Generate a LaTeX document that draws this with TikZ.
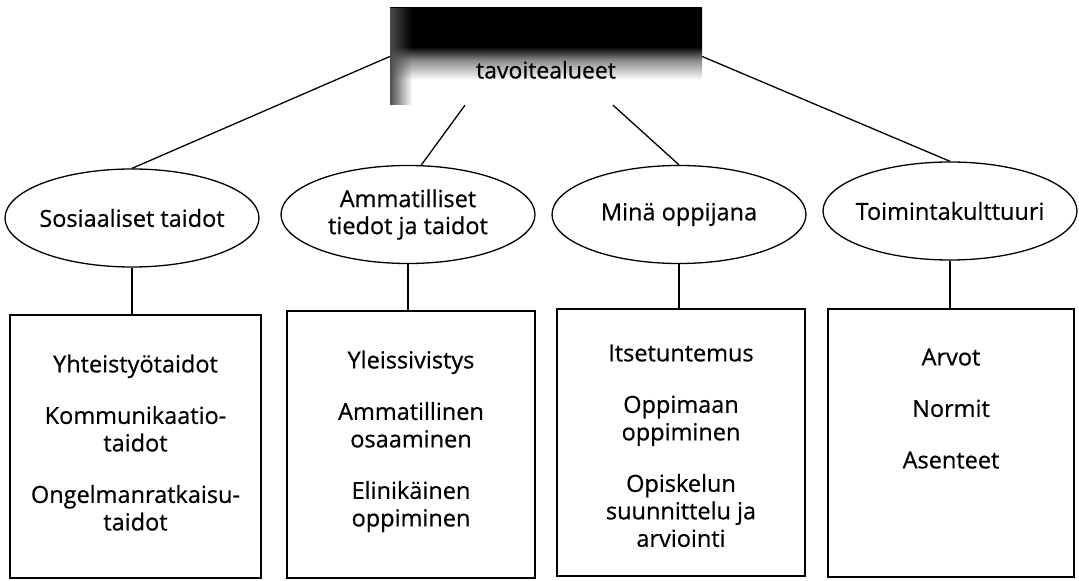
\documentclass[tikz,border=0pt]{standalone}
\usepackage{fontspec}
\setmainfont{Open Sans}[FakeBold=0.6]
\usepackage{tikz}
\usetikzlibrary{calc}
\usetikzlibrary{shapes.geometric}
\usetikzlibrary{fadings}
\pgfdeclareverticalshading{titlefade}{100bp}{color(0bp)=(white); color(38bp)=(white); color(48bp)=(black!45); color(55bp)=(black); color(100bp)=(black)}
\tikzset{
  title/.style={shade,shading=titlefade,minimum width=312,minimum height=97,inner sep=0pt,align=center,font=\fontsize{23}{26}\selectfont},
  goal/.style={ellipse,draw,line width=1.3pt,minimum width=254,minimum height=98,inner xsep=-40pt,inner ysep=0pt,align=center,font=\fontsize{23.5}{27}\selectfont},
  panel/.style={draw,line width=1.3pt,minimum width=248,minimum height=267,inner sep=0pt},
  items/.style={anchor=north,align=center,inner sep=0pt,font=\fontsize{23.5}{27.5}\selectfont},
  link/.style={line width=1.3pt}
}

\begin{document}
\begin{tikzpicture}[x=1pt,y=1pt]
\useasboundingbox (0,0) rectangle (1079,581);
% top
\node[title] (top) at (546,524.5) {\strut\\tavoitealueet};
\fill[black!70,path fading=east] (top.south west) rectangle ($(top.north west)+(22,0)$);
% goal areas
\node[goal] (soc) at (132,363) {Sosiaaliset taidot};
\node[goal] (pro) at (408,366.5) {Ammatilliset\\tiedot ja taidot};
\node[goal] (learn) at (679,366.5) {Minä oppijana};
\node[goal] (cult) at (950,370) {Toimintakulttuuri};
% boxes
\node[panel,minimum width=251,minimum height=263] (b1) at (135.5,134.5) {};
\node[panel] (b2) at (411,136.5) {};
\node[panel] (b3) at (681,138.5) {};
\node[panel,minimum width=246,minimum height=268] (b4) at (951,138) {};
\node[items] (t1) at ($(b1.north)+(0,-40)$) {Yhteistyötaidot\\[24pt]Kommunikaatio-\\taidot\\[24pt]Ongelmanratkaisu-\\taidot};
\node[items] (t2) at ($(b2.north)+(0,-40)$) {Yleissivistys\\[24pt]Ammatillinen\\osaaminen\\[24pt]Elinikäinen\\oppiminen};
\node[items] (t3) at ($(b3.north)+(0,-36)$) {Itsetuntemus\\[24pt]Oppimaan\\oppiminen\\[24pt]Opiskelun\\suunnittelu ja\\arviointi};
\node[items] (t4) at ($(b4.north)+(0,-40)$) {Arvot\\[24pt]Normit\\[24pt]Asenteet};
% links
\draw[link] (top.west) -- (soc.north);
\draw[link] (top.211) -- (pro.75);
\draw[link] (top.324) -- (learn.north);
\draw[link] (top.east) -- (cult.north);
\draw[link] (soc.south) -- (soc.south |- b1.north);
\draw[link] (pro.south) -- (pro.south |- b2.north);
\draw[link] (learn.south) -- (learn.south |- b3.north);
\draw[link] (cult.south) -- (cult.south |- b4.north);
\end{tikzpicture}
\end{document}
